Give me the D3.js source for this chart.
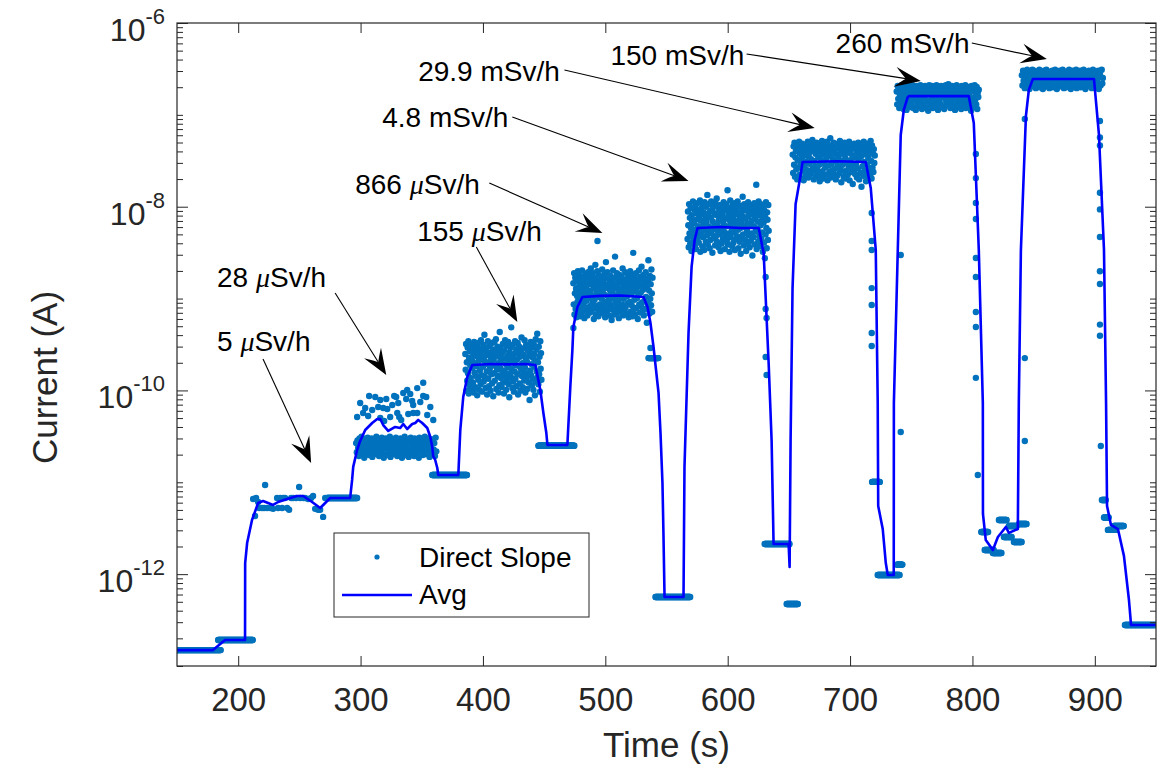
<!DOCTYPE html>
<html><head><meta charset="utf-8">
<script src="https://cdnjs.cloudflare.com/ajax/libs/d3/7.8.5/d3.min.js"></script>
<style>
body{margin:0;background:#fff;}
text{font-family:"Liberation Sans",Arial,Helvetica,sans-serif;}
</style>
</head><body>
<svg id="chart" width="1166" height="769"></svg>
<script>
// ---------------- DATA ----------------
const xTickValues = [200, 300, 400, 500, 600, 700, 800, 900];
const yLabelExponents = [-6, -8, -10, -12];
const xDomain = [150, 950];
const yDomain = [1e-13, 1e-6];

// Avg line (time s, current A)
const avgT = [150,179.4,189.3,205.6,205.7,207.3,211.3,216.3,220.3,228.5,232.6,240.0,248.2,253.1,260.4,267.0,275.2,291.5,
  293.1,294.0,297.2,299.7,303.8,309.5,313.6,316.1,318.5,322.6,328.3,332.4,334.9,338.1,342.2,344.7,347.1,350.4,354.5,357.0,358.6,359.4,361.0,362.7,363.5,
  379.9,381.5,383.9,387.2,391.3,406.0,422.4,434.7,442.8,446.9,449.4,451.8,452.7,469.0,
  471.4,473.1,473.9,477.2,481.3,496.0,512.4,531.2,534.5,536.9,539.4,542.6,543.5,545.1,546.7,547.5,548.4,563.9,
  564.7,568.0,570.5,573.0,575.4,594.2,610.5,625.3,629.4,633.5,635.9,637.5,649.8,650.6,
  651.4,653.0,655.5,659.6,661.2,690.0,712.8,716.9,721.0,722.6,723.0,726.7,729.2,730.8,735.7,
  735.8,739.0,741.4,743.9,747.1,748.0,797.0,801.1,805.2,808.5,808.6,810.9,816.7,820.8,827.3,829.8,837.1,
  837.9,839.6,843.7,846.1,849.4,899.3,903.4,907.5,909.2,910.0,913.2,918.9,923.8,927.9,929.6,950.8];
const avgI = [1.49e-13,1.49e-13,1.92e-13,1.92e-13,1.32e-12,2.18e-12,3.89e-12,5.95e-12,6.26e-12,5.66e-12,6.10e-12,6.58e-12,7.09e-12,7.09e-12,6.10e-12,5.25e-12,6.75e-12,6.75e-12,
  1.06e-11,1.47e-11,2.25e-11,2.82e-11,3.71e-11,4.42e-11,4.89e-11,4.89e-11,4.20e-11,3.62e-11,4.00e-11,3.90e-11,4.31e-11,3.80e-11,4.31e-11,4.42e-11,4.77e-11,4.42e-11,3.90e-11,3.11e-11,2.42e-11,1.93e-11,1.75e-11,1.43e-11,1.20e-11,
  1.20e-11,3.71e-11,8.48e-11,1.40e-10,1.89e-10,1.94e-10,1.92e-10,1.94e-10,1.89e-10,1.01e-10,5.68e-11,3.44e-11,2.55e-11,2.55e-11,
  1.09e-10,2.76e-10,4.90e-10,8.09e-10,1.04e-9,1.07e-9,1.08e-9,1.04e-9,8.09e-10,5.42e-10,2.97e-10,1.205e-10,9.38e-11,3.44e-11,9.83e-12,2.81e-12,5.64e-13,5.64e-13,
  1.47e-11,4.22e-10,2.21e-9,4.34e-9,5.87e-9,6.02e-9,5.87e-9,5.87e-9,3.13e-9,1.94e-10,2.82e-11,2.13e-12,2.13e-12,1.20e-12,
  2.82e-11,1.30e-9,1.07e-8,2.21e-8,3.07e-8,3.12e-8,3.07e-8,1.60e-8,3.38e-9,7.30e-11,5.52e-12,3.10e-12,1.32e-12,9.79e-13,9.79e-13,
  7.30e-11,3.38e-9,6.04e-8,1.13e-7,1.56e-7,1.60e-7,1.60e-7,8.15e-8,3.38e-9,7.30e-11,4.52e-12,2.35e-12,1.83e-12,2.54e-12,3.26e-12,2.81e-12,3.10e-12,
  7.30e-11,3.38e-9,9.72e-8,1.87e-7,2.46e-7,2.46e-7,6.04e-8,3.38e-9,7.30e-11,5.52e-12,3.43e-12,3.10e-12,1.58e-12,5.23e-13,2.80e-13,2.80e-13];

// Dense scatter clouds: time span, base current, offsets (hundredths of a decade)
const cloudT0 = [296.4, 385.6, 473.9, 567.2, 653.1, 738.1, 840.4];
const cloudT1 = [361.9, 447.8, 538.6, 633.5, 720.2, 805.2, 906.6];
const cloudBase = [2.55e-11, 1.89e-10, 1.04e-9, 5.87e-9, 3.07e-8, 1.60e-7, 2.46e-7];
const cloud28 = [2,-8,5,-3,-12,7,0,-6,9,-10,3,-1,-14,6,-5,1,-9,8,-4,-11,4,-2,-7,7,-13,0,5,-8,2,-5,9,-10,-1,6,-12,3,-3,-7,8,-9,
  1,-14,5,-4,7,-11,-2,4,-6,0,9,-13,2,-8,6,-3,-10,3,-5,8,-1,-12,5,-7,1,-9,7,-4,-14,4,0,-6,9,-11,2,-2,-8,6,-13,3,
  -5,8,-10,1,-3,5,-12,7,-6,0,-9,4,-1,-14,8,-7,2,-4,6,-11,3,-8,9,-2,-10,5,0,-6,7,-13,1,-3,4,-9,6,-5,2,-12,8,-7];
const cloud155 = [12,-5,23,-28,3,-17,19,-9,26,-31,8,-22,15,0,-14,21,-26,6,-3,17,-19,11,-30,25,-8,2,-24,14,-12,20,-1,-33,9,24,-16,4,-27,18,-6,13,
  -21,27,-11,7,-29,16,-2,22,-18,5,33,-13,10,-25,1,19,-7,-32,14,26,-15,3,-23,21,-4,12,-28,8,-10,24,-20,0,17,-34,6,-9,25,-17,11,-1,
  28,-26,15,-5,20,-12,2,-30,9,-22,36,-3,18,-14,4,-24,13,-8,23,-19,7,-31,16,-6,27,-11,1,-27,21,-16,10,-2,25,-21,5,-35,14,-9,19,-13,
  41,-4,8,-25,22,-18,3,-29,12,-7,26,-15,0,17,-23,6,-10,24,-32,13,-1,20,-20,9,-28,15,-5,30,-12,2,-24,18,-8,11,-17,27,-3,-30,7,22,
  -14,4,-26,16,-9,21,-19,10,-38,14,-6,25,-11,1,-22,19,-15,8,-27,23,-2,12,-33,5,28,-18,17,-7,34,-13,3,-21,20,-10,9,-29,26,-4,13,-16];
const cloud866 = [15,-8,26,-19,4,21,-13,9,-22,17,1,-5,28,-16,11,24,-10,6,-21,19,-2,13,-18,29,3,-12,22,-7,8,-23,16,0,25,-15,10,-4,20,-20,5,27,
  -11,14,-1,23,-17,7,31,-9,18,-14,2,26,-6,12,-24,21,-3,9,35,-19,16,-10,4,28,-13,11,-21,24,0,18,-8,6,-16,22,14,-2,30,-12,8,-18,
  19,3,-7,25,-22,13,38,-5,10,-15,27,1,-11,20,-20,15,-3,7,23,-9,12,-25,17,5,-14,29,-1,9,-19,21,44,-6,14,-12,2,26,-17,11,-4,18,
  -23,6,24,-10,16,0,-15,22,8,-8,31,-20,13,-2,19,-13,4,27,-11,10,-18,15,1,25,-7,20,-22,7,12,-5,28,-16,17,3,-9,23,-21,9,48,-14,
  14,-3,21,-19,6,26,-12,18,-1,11,-24,16,2,29,-8,13,-17,22,5,-10,33,-6,19,-15,8,24,-20,10,-4,15,-13,27,0,20,-28,12,-7,17,40,-11,
  7,-18,23,-2,14,-9,30,4,-16,21];
const cloud4p8 = [-12,18,3,-21,26,-6,11,-17,22,0,-25,14,7,-9,29,-14,5,20,-3,-19,24,9,-23,16,-1,27,-11,2,19,-16,12,-7,30,-26,8,21,-4,15,-20,25,
  -10,4,17,-24,28,-2,10,-15,23,6,-8,36,-18,13,-5,26,1,-22,18,-13,11,29,-6,20,-27,7,-1,24,-11,16,3,-19,27,-9,14,32,-15,5,-3,22,
  -21,9,18,-7,25,-25,12,0,-17,21,15,-12,6,28,-4,19,-23,10,-8,26,2,-14,23,41,-18,13,-6,17,-26,8,30,-10,4,20,-1,-20,25,11,-16,15,
  -5,27,-24,7,22,-12,3,18,-9,29,-2,-22,14,9,-15,24,0,-28,16,6,-11,21,34,-7,12,-19,26,1,-13,19,10,-25,23,-3,5,-17,28,13,-8,17,
  -21,4,25,-14,20,-6,8,-30,15,22,-10,2,27,-18,11,-4,24,47,-23,18,-1,7,-15,29,14,-9,21,-20,3,26,-12,16,-5,10,-26,23,6,-16,19,-33,
  12,-7,28,0,-22,17,9,-13,25,-3];
const cloud29p9 = [8,-12,17,-3,21,-16,5,12,-8,19,-19,2,14,-6,22,-14,9,-1,16,-18,4,20,-10,11,-20,15,-4,7,18,-15,0,13,-9,22,-17,6,10,-2,19,-13,
  3,16,-11,24,-7,12,-19,1,18,-5,9,-16,21,-8,14,-12,5,20,-3,-21,11,17,-15,2,23,-10,8,-18,15,-1,19,-6,13,-14,4,22,-20,10,-4,16,
  -11,7,26,-17,12,-2,18,-9,3,21,-13,14,-7,9,-19,17,0,-15,20,-5,6,15,-12,23,-8,11,-22,1,18,-3,13,-16,8,21,-10,4,-18,16,-1,19,
  -14,10,-6,22,-20,12,2,-11,17,-4,7,-24,15,-9,20,5,-13,18,-2,11,-17,14,-7,21,3,-19,9,16,-12,6,-27,19,-5,13,-15,22,0,-10,17,8,
  -21,12,-3,20,-16,4,15,-8,10,-14,23,1,-18,18,-6,9,-11,14,-1,7];
const cloud150 = [5,-9,11,-3,8,-13,2,10,-6,12,-11,0,7,-14,4,9,-2,-8,12,-15,3,10,-5,6,-12,1,11,-7,8,-10,-1,12,-13,5,9,-4,2,-15,7,11,
  -8,0,10,-11,4,-3,12,-6,8,-14,1,9,-9,6,-1,11,-12,3,7,-5,10,-16,2,12,-7,5,-10,8,-2,11,-13,4,0,9,-8,6,-4,12,-11,3,
  -15,10,1,-6,7,-9,11,-1,5,-12,8,2,-14,9,-3,12,-7,4,-10,6,13,-5,0,10,-13,3,-8,11,-2,7,-11,1,9,-15,5,-4,12,-9,8,-1,
  2,-12,10,-6,6,-14,11,-3,4,-10,9,0,-7,12,-13,7,-5,3,10,-8,1,8,-11,5,-16,11,-2,9,-6,6,-12,12,-4,2,-9,10,-14,4,-1,7];
const cloud260 = [4,-7,9,-2,6,-10,1,8,-5,10,-9,0,5,-11,3,7,-3,-8,10,-6,2,9,-4,6,-10,1,8,-7,5,-1,10,-9,3,7,-5,0,-11,6,9,-3,
  4,-8,10,-2,1,-6,8,-10,5,7,-4,2,9,-9,0,6,-7,10,-1,3,-11,8,-5,4,-3,9,-8,1,7,-6,10,2,-10,5,-2,8,-9,3,6,-4,
  -1,10,-7,4,-11,7,0,9,-5,2,-8,6,-3,10,-10,1,8,-6,5,-2,9,-9,3,7,-4,0,10,-7,4,-11,6,-1,8,-5,2,9,-8,5,-3,7,
  -10,1,10,-6,3,-2,8,-9,6,0,-4,9,-11,4,7,-7,2,10,-5,1];
const cloudOffsets = [cloud28, cloud155, cloud866, cloud4p8, cloud29p9, cloud150, cloud260];

// Constant (quantized) readings: start time, end time, current
const runT0 = [150,183.6,272.7,358.6,445.3,535.3,541.0,630.2,648.2,718.0,722.6,738.2,807.2,810.0,816.7,821.6,825.7,829.8,833.9,837.9,905.8,907.5,910.7,915.6,924.6];
const runT1 = [186.0,212.1,297.2,387.2,474.7,543.5,569.6,650.6,657.6,724.3,740.6,743.0,812.9,817.5,824.0,828.1,832.2,836.3,840.4,844.5,909.1,911.6,917.3,923.8,950.8];
const runI  = [1.49e-13,1.92e-13,6.75e-12,1.20e-11,2.50e-11,2.25e-10,5.64e-13,2.13e-12,4.73e-13,1.01e-11,9.79e-13,1.27e-12,2.88e-12,1.83e-12,1.70e-12,3.89e-12,2.54e-12,3.34e-12,2.24e-12,3.52e-12,6.42e-12,4.14e-12,3.03e-12,3.34e-12,2.80e-13];

// Individual readings (5 uSv/h step, sparse part of 28 uSv/h step, transients)
const dotT = [212.2,213.8,214.6,216.3,217.1,219.5,221.2,222.0,223.6,226.1,228.5,231.8,232.6,234.3,235.9,236.7,238.3,240.0,241.6,243.3,244.9,247.3,249.8,250.6,253.1,254.7,257.2,259.6,261.2,262.9,265.3,267.0,269.4,271.1,
  297.2,299.7,302.1,306.2,307.0,312.0,314.4,316.1,316.1,318.5,321.0,321.8,324.2,327.5,329.1,330.0,330.8,331.6,334.9,337.3,338.1,339.0,342.2,343.0,343.0,346.3,346.3,351.2,351.2,353.7,354.5,357.0,
  309.5,325.9,333.2,348.8,359.4,303.8,319.3,340.6,
  473.9,493.6,536.9,631.0,631.0,631.8,631.0,631.8,741.4,741.4,
  717.7,717.7,717.7,717.7,717.7,717.7,717.7,
  802.8,802.8,802.8,802.8,802.8,802.8,802.8,802.8,802.8,804.4,
  842.8,842.8,842.8,
  904.2,904.2,904.2,904.2,904.2,904.2,904.2,904.2,904.2,904.2,904.9];
const dotI = [6.58e-12,4.30e-12,6.75e-12,6.10e-12,5.25e-12,5.25e-12,5.25e-12,9.35e-12,5.25e-12,5.25e-12,5.14e-12,6.75e-12,5.25e-12,6.75e-12,5.25e-12,6.75e-12,6.75e-12,5.25e-12,5.03e-12,6.75e-12,6.75e-12,6.75e-12,8.89e-12,6.75e-12,6.75e-12,6.75e-12,6.58e-12,6.75e-12,7.09e-12,5.14e-12,5.03e-12,5.03e-12,4.20e-12,6.75e-12,
  5.14e-11,7.30e-11,5.68e-11,5.27e-11,8.70e-11,8.48e-11,6.60e-11,7.87e-11,5.01e-11,6.44e-11,8.07e-11,6.28e-11,5.14e-11,8.70e-11,8.48e-11,5.68e-11,7.30e-11,5.14e-11,9.38e-11,8.07e-11,1.01e-10,5.54e-11,7.67e-11,6.94e-11,5.68e-11,1.06e-10,5.68e-11,1.21e-10,8.70e-11,8.48e-11,5.40e-11,6.60e-11,
  6.12e-11,6.94e-11,4.77e-11,7.48e-11,4.77e-11,6.44e-11,4.65e-11,9.15e-11,
  4.78e-10,4.23e-9,2.90e-10,1.72e-9,7.70e-10,6.15e-10,2.31e-10,1.47e-10,2.98e-9,3.53e-11,
  8.54e-9,4.23e-9,3.38e-9,1.30e-9,8.51e-10,4.22e-10,3.05e-10,
  3.75e-8,2.05e-8,1.10e-8,7.35e-9,2.76e-9,1.72e-9,7.14e-10,4.90e-10,1.37e-10,1.20e-11,
  9.01e-8,2.25e-10,2.82e-11,
  8.57e-8,5.67e-8,4.64e-8,1.42e-8,9.35e-9,4.68e-9,1.98e-9,1.44e-9,5.21e-10,3.94e-10,2.48e-11];

// Annotations: label, text anchor (time, current), arrow start, arrow tip
const annoPrefix = ["5 ", "28 ", "155 ", "866 ", "4.8 m", "29.9 m", "150 m", "260 m"];
const annoMu     = [true, true, true, true, false, false, false, false];
const annoTextT  = [182.7, 182.7, 346.3, 295.6, 317.7, 347.1, 504.2, 688.2];
const annoTextI  = [2.69e-10, 1.34e-9, 4.23e-9, 1.38e-8, 7.38e-8, 2.34e-7, 3.49e-7, 4.71e-7];
const arrowT0 = [220.3, 279.2, 394.6, 405.2, 424.0, 466.6, 615.4, 799.5];
const arrowI0 = [2.20e-10, 1.15e-9, 3.64e-9, 1.81e-8, 9.48e-8, 3.08e-7, 4.60e-7, 6.06e-7];
const arrowT1 = [259.6, 321.0, 428.1, 497.6, 568.0, 671.1, 757.8, 860.8];
const arrowI1 = [1.62e-11, 1.47e-10, 5.56e-10, 5.18e-9, 1.91e-8, 7.19e-8, 2.34e-7, 4.06e-7];

const legendLabels = ["Direct Slope", "Avg"];

// ---------------- CHART ----------------
const svg = d3.select("#chart");
const L = 177, R = 1156, T = 23, B = 666;
const x = d3.scaleLinear().domain(xDomain).range([L, R]);
const y = d3.scaleLog().domain(yDomain).range([B, T]);
const axisColor = "#262626";
const dotColor = "#0072BD";
const dotR = 3.2;

svg.append("rect").attr("width", 1166).attr("height", 769).attr("fill", "#fff");
svg.append("defs").append("clipPath").attr("id", "clip")
  .append("rect").attr("x", L).attr("y", T).attr("width", R - L).attr("height", B - T);

const plot = svg.append("g").attr("clip-path", "url(#clip)");

// scatter points
let pts = [];
cloudOffsets.forEach((offs, c) => {
  const n = offs.length;
  offs.forEach((d, i) => pts.push({t: cloudT0[c] + (cloudT1[c] - cloudT0[c]) * i / (n - 1), v: cloudBase[c] * Math.pow(10, d / 100)}));
});
runT0.forEach((t0, k) => {
  for (let t = t0; t <= runT1[k] + 1e-9; t += 0.35) pts.push({t: t, v: runI[k]});
});
dotT.forEach((t, k) => pts.push({t: t, v: dotI[k]}));

plot.append("g").selectAll("circle").data(pts).join("circle")
  .attr("cx", d => x(d.t)).attr("cy", d => y(d.v)).attr("r", dotR).attr("fill", dotColor);

// avg line
const avg = avgT.map((t, i) => ({t: t, v: avgI[i]}));
plot.append("path").datum(avg)
  .attr("d", d3.line().x(d => x(d.t)).y(d => y(d.v)))
  .attr("fill", "none").attr("stroke", "#0000FF").attr("stroke-width", 2.6).attr("stroke-linejoin", "round");

// axes
const yMajorTicks = [];
const yMinorTicks = [];
for (let e = -13; e <= -6; e++) {
  const p = Math.pow(10, e);
  if (yLabelExponents.includes(e)) yMajorTicks.push(p); else yMinorTicks.push(p);
  if (e < -6) for (let k = 2; k <= 9; k++) yMinorTicks.push(k * p);
}
function styleAxis(g) {
  g.select(".domain").remove();
  g.selectAll("line").attr("stroke", axisColor).attr("stroke-width", 1);
  g.selectAll("text").attr("fill", axisColor);
}
svg.append("g").attr("transform", `translate(0,${B})`)
  .call(d3.axisBottom(x).tickValues(xTickValues).tickSizeInner(-10).tickSizeOuter(0).tickPadding(22).tickFormat(d3.format("d")))
  .call(styleAxis)
  .selectAll("text").style("font-size", "33px").style("font-family", '"Liberation Sans",Arial,sans-serif');
svg.append("g").attr("transform", `translate(0,${T})`)
  .call(d3.axisTop(x).tickValues(xTickValues).tickSizeInner(-10).tickSizeOuter(0).tickFormat(""))
  .call(styleAxis);
svg.append("g").attr("transform", `translate(${L},0)`)
  .call(d3.axisLeft(y).tickValues(yMajorTicks).tickSizeInner(-11).tickSizeOuter(0).tickFormat(""))
  .call(styleAxis);
svg.append("g").attr("transform", `translate(${L},0)`)
  .call(d3.axisLeft(y).tickValues(yMinorTicks).tickSizeInner(-6).tickSizeOuter(0).tickFormat(""))
  .call(styleAxis);
svg.append("g").attr("transform", `translate(${R},0)`)
  .call(d3.axisRight(y).tickValues(yMajorTicks).tickSizeInner(-11).tickSizeOuter(0).tickFormat(""))
  .call(styleAxis);
svg.append("g").attr("transform", `translate(${R},0)`)
  .call(d3.axisRight(y).tickValues(yMinorTicks).tickSizeInner(-6).tickSizeOuter(0).tickFormat(""))
  .call(styleAxis);

// y tick labels with superscript
yLabelExponents.forEach(e => {
  const t = svg.append("text").attr("x", L - 12).attr("y", y(Math.pow(10, e)) + 18)
    .attr("text-anchor", "end").attr("fill", axisColor).style("font-size", "32px");
  t.append("tspan").text("10");
  t.append("tspan").attr("dy", -17).style("font-size", "22px").text("-" + Math.abs(e));
});

// box
svg.append("rect").attr("x", L).attr("y", T).attr("width", R - L).attr("height", B - T)
  .attr("fill", "none").attr("stroke", axisColor).attr("stroke-width", 1.2);

// axis labels
svg.append("text").attr("x", (L + R) / 2).attr("y", 757).attr("text-anchor", "middle")
  .attr("fill", axisColor).style("font-size", "35px").text("Time (s)");
svg.append("text").attr("transform", `translate(57,${(T + B) / 2 + 33}) rotate(-90)`).attr("text-anchor", "middle")
  .attr("fill", axisColor).style("font-size", "35px").text("Current (A)");

// annotations
const annG = svg.append("g");
annoPrefix.forEach((p, i) => {
  const t = annG.append("text").attr("x", x(annoTextT[i])).attr("y", y(annoTextI[i]))
    .attr("fill", "#000").style("font-size", "28px");
  t.append("tspan").text(p);
  if (annoMu[i]) t.append("tspan").style("font-style", "italic").style("font-family", '"Liberation Serif","DejaVu Serif",serif').text("μ");
  t.append("tspan").text("Sv/h");

  const x0 = x(arrowT0[i]), y0 = y(arrowI0[i]), x1 = x(arrowT1[i]), y1 = y(arrowI1[i]);
  const ang = Math.atan2(y1 - y0, x1 - x0);
  const hl = 26, hw = 10, notch = 15;
  const ca = Math.cos(ang), sa = Math.sin(ang);
  const pt = (a, b) => [x1 + a * ca - b * sa, y1 + a * sa + b * ca];
  annG.append("line").attr("x1", x0).attr("y1", y0)
    .attr("x2", pt(-notch, 0)[0]).attr("y2", pt(-notch, 0)[1])
    .attr("stroke", "#000").attr("stroke-width", 1.1);
  const b1 = pt(-hl, hw), b2 = pt(-hl, -hw), n = pt(-notch, 0);
  annG.append("path")
    .attr("d", `M${x1},${y1}L${b1[0]},${b1[1]}Q${pt(-notch - 3, 2)[0]},${pt(-notch - 3, 2)[1]} ${n[0]},${n[1]}Q${pt(-notch - 3, -2)[0]},${pt(-notch - 3, -2)[1]} ${b2[0]},${b2[1]}Z`)
    .attr("fill", "#000");
});

// legend
const lg = svg.append("g");
lg.append("rect").attr("x", 334).attr("y", 533).attr("width", 255).attr("height", 84)
  .attr("fill", "#fff").attr("stroke", axisColor).attr("stroke-width", 1);
lg.append("circle").attr("cx", 377).attr("cy", 557).attr("r", 2.6).attr("fill", dotColor);
lg.append("line").attr("x1", 342).attr("x2", 412).attr("y1", 595).attr("y2", 595)
  .attr("stroke", "#0000FF").attr("stroke-width", 2.5);
lg.append("text").attr("x", 419).attr("y", 567).style("font-size", "28px").attr("fill", "#000").text(legendLabels[0]);
lg.append("text").attr("x", 419).attr("y", 604).style("font-size", "28px").attr("fill", "#000").text(legendLabels[1]);
</script>
</body></html>
